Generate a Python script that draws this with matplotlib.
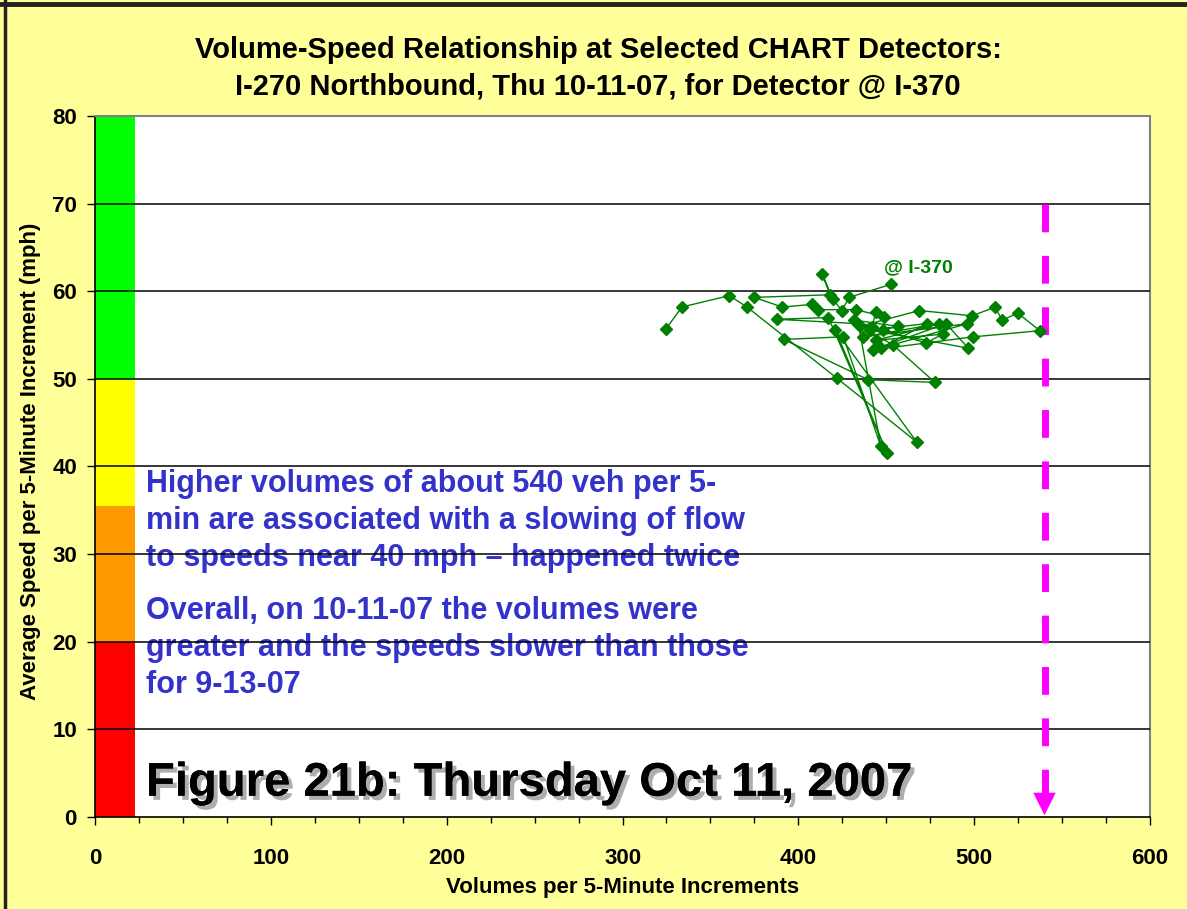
import matplotlib
matplotlib.use("Agg")
import matplotlib.pyplot as plt
import matplotlib.patheffects as pe
from matplotlib.patches import Rectangle
from matplotlib.lines import Line2D

plt.rcParams['font.family'] = ['Liberation Sans', 'DejaVu Sans']

# ---- data (time-ordered volume / speed pairs) ----
volumes = [324.7, 333.8, 360.7, 370.8, 421.8, 467.3, 421.0, 450.6, 417.1, 387.7,
           434.1, 446.9, 425.6, 391.7, 439.8, 477.7, 453.7, 435.1, 468.8, 498.8,
           512.0, 515.8, 524.8, 537.4, 499.5, 442.3, 484.0, 496.7, 440.8, 473.0,
           446.8, 496.1, 436.9, 480.0, 444.2, 482.1, 472.6, 448.3, 456.7, 431.7,
           441.7, 444.2, 448.7, 432.8, 411.4, 408.0, 390.9, 374.8, 418.1, 413.5,
           419.6, 424.8, 428.8, 452.9]
speeds = [55.7, 58.2, 59.5, 58.2, 50.1, 42.8, 55.6, 41.5, 57.0, 56.8,
          56.3, 42.3, 54.8, 54.5, 49.9, 49.6, 53.9, 56.0, 57.8, 57.2,
          58.2, 56.7, 57.5, 55.5, 54.8, 53.3, 56.3, 53.5, 55.6, 56.3,
          53.5, 56.3, 54.8, 56.3, 54.4, 55.1, 54.1, 55.6, 56.0, 56.7,
          55.9, 57.6, 57.1, 57.9, 57.9, 58.5, 58.2, 59.3, 59.6, 62.0,
          59.1, 57.8, 59.3, 60.8]

# speed bands: (low, high, colour)
band_low = [0, 20, 35.5, 50]
band_high = [20, 35.5, 50, 80]
band_colors = ['#FF0000', '#FF9900', '#FFFF00', '#00FF00']
band_width = 22.5

capacity_volume = 540
capacity_top = 70

title = ("Volume-Speed Relationship at Selected CHART Detectors:\n"
         "I-270 Northbound, Thu 10-11-07, for Detector @ I-370")
xlabel = "Volumes per 5-Minute Increments"
ylabel = "Average Speed per 5-Minute Increment (mph)"
note1 = ("Higher volumes of about 540 veh per 5-\n"
         "min are associated with a slowing of flow\n"
         "to speeds near 40 mph \u2013 happened twice")
note2 = ("Overall, on 10-11-07 the volumes were\n"
         "greater and the speeds slower than those\n"
         "for 9-13-07")
figtitle = "Figure 21b: Thursday Oct 11, 2007"
series_label = "@ I-370"

BG = '#FFFF99'
BLUE = '#3333CC'
GREEN = '#008000'
MAGENTA = '#FF00FF'

fig = plt.figure(figsize=(11.87, 9.09), dpi=100)
fig.patch.set_facecolor(BG)

# outer frame lines (top and left)
fig.add_artist(Line2D([0, 1], [1 - 3.5 / 909] * 2, color='#222222', lw=3.5, transform=fig.transFigure))
fig.add_artist(Line2D([4.5 / 1187] * 2, [0, 1], color='#222222', lw=2.5, transform=fig.transFigure))

ax = fig.add_axes([95 / 1187, 1 - 817 / 909, (1150 - 95) / 1187, (817 - 116) / 909])
ax.set_facecolor('white')
ax.set_xlim(0, 600)
ax.set_ylim(0, 80)

for lo, hi, c in zip(band_low, band_high, band_colors):
    ax.add_patch(Rectangle((0, lo), band_width, hi - lo, facecolor=c, edgecolor='none', zorder=1))

for yv in range(10, 80, 10):
    ax.axhline(yv, color='black', lw=1.1, zorder=3)

ax.plot(volumes, speeds, color=GREEN, lw=1.0, marker='D', markersize=6.5,
        markerfacecolor=GREEN, markeredgecolor=GREEN, zorder=5)
ax.text(449, 62.2, series_label, color=GREEN, fontsize=14, fontweight='bold', zorder=6)

# capacity line with arrow
ax.plot([capacity_volume, capacity_volume], [capacity_top, 2.7], color=MAGENTA, lw=5,
        dashes=(4, 3.4), zorder=4)
ax.annotate('', xy=(capacity_volume, 0.2), xytext=(capacity_volume, 2.8),
            arrowprops=dict(arrowstyle='-|>,head_width=0.4,head_length=0.8', color=MAGENTA,
                            lw=0.1, mutation_scale=20, shrinkA=0, shrinkB=0),
            zorder=4)

ax.text(29, 33.8, note1, color=BLUE, fontsize=22, fontweight='bold', ha='left', va='center',
        linespacing=1.3, zorder=2)
ax.text(29, 19.3, note2, color=BLUE, fontsize=22, fontweight='bold', ha='left', va='center',
        linespacing=1.3, zorder=2)
ax.text(29, 3.8, figtitle, color='black', fontsize=34, fontweight='bold', ha='left', va='center',
        zorder=6,
        path_effects=[pe.withSimplePatchShadow(offset=(3, -3), shadow_rgbFace='#999999', alpha=0.8),
                      pe.Normal()])

ax.set_xticks(range(0, 601, 100))
ax.set_xticks(range(0, 601, 25), minor=True)
ax.set_yticks(range(0, 81, 10))
ax.tick_params(axis='both', which='major', direction='out', length=6, width=1, labelsize=16, color='black')
ax.tick_params(axis='x', which='minor', direction='out', length=4, width=1, color='black')
ax.tick_params(axis='x', pad=16)
ax.tick_params(axis='y', pad=7)
for lab in ax.get_xticklabels() + ax.get_yticklabels():
    lab.set_fontweight('bold')

for s in ['top', 'right']:
    ax.spines[s].set_color('#808080')
    ax.spines[s].set_linewidth(1.5)
for s in ['left', 'bottom']:
    ax.spines[s].set_color('black')
    ax.spines[s].set_linewidth(1.2)

ax.set_xlabel(xlabel, fontsize=16, fontweight='bold', labelpad=6)
ax.set_ylabel(ylabel, fontsize=16, fontweight='bold')
ax.yaxis.set_label_coords(-0.051, 0.507)

fig.text(598 / 1187, 1 - 68 / 909, title, ha='center', va='center', fontsize=21, fontweight='bold',
         linespacing=1.38)

fig.savefig('out.png', dpi=100, facecolor=BG)
